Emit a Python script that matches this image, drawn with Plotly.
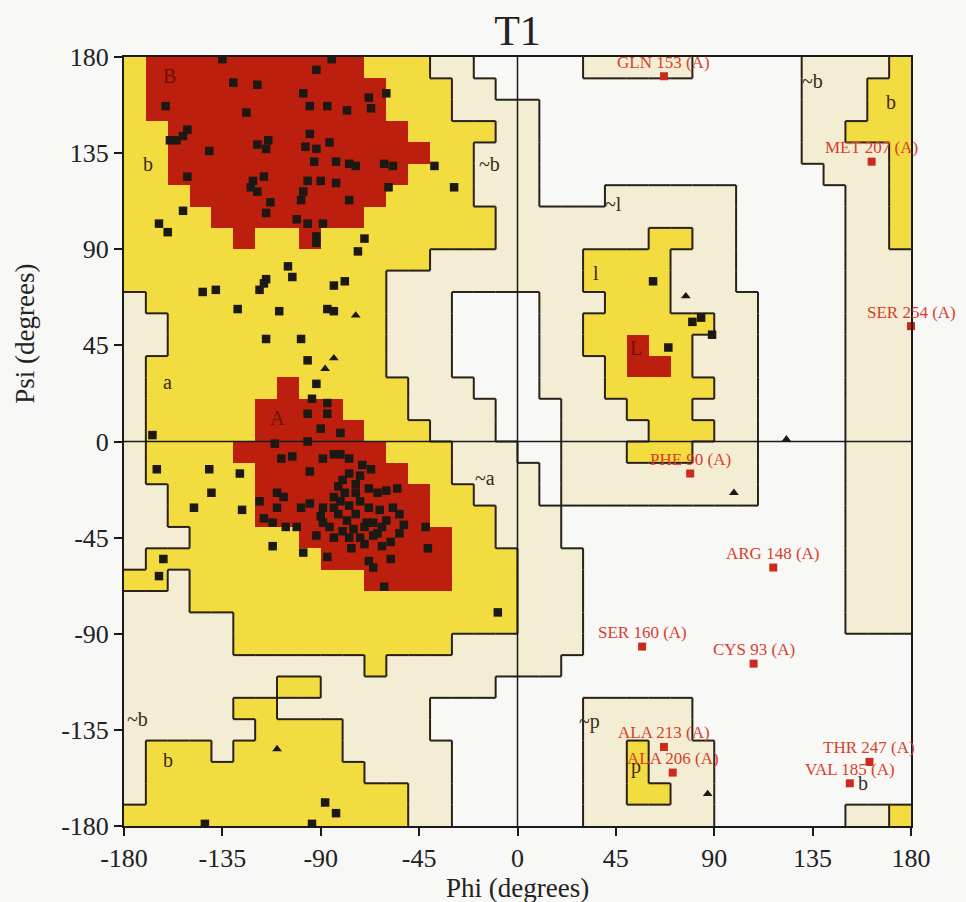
import plotly.graph_objects as go

# ---------------- Region map (PROCHECK style), 10-degree cells ----------------
# Each row: psi band from top (170..180) to bottom (-180..-170); run-length codes.
# R = core, Y = allowed, B = generously allowed, . = disallowed
region_left = [  # phi -180 .. 0 (18 cells)
    "Y1 R10 Y3 B2 .2", "Y1 R11 Y3 B2 .1", "Y1 R11 Y3 B3", "Y2 R11 Y4 B1",
    "Y2 R12 Y2 B2", "Y2 R11 Y3 B2", "Y3 R9 Y4 B2", "Y4 R7 Y6 B1",
    "Y5 R1 Y2 R1 Y8 B1", "Y14 B4", "Y12 B6", "B1 Y11 B3 .3",
    "B2 Y10 B3 .3", "B2 Y10 B3 .3", "B1 Y11 B3 .3", "B1 Y6 R1 Y5 B3 .2",
    "B1 Y5 R4 Y3 B4 .1", "B1 Y5 R5 Y3 B3 .1", "B1 Y4 R7 Y3 B3", "B1 Y5 R7 Y2 B3",
    "B2 Y4 R8 Y2 B2", "B2 Y4 R8 Y3 B1", "B3 Y5 R7 Y2 B1", "B1 Y8 R6 Y3",
    "Y2 B1 Y8 R4 Y3", "B3 Y15", "B5 Y13", "B5 Y10 B3",
    "B11 Y1 B6", "B7 Y2 B8 .1", "B5 Y2 B7 .4", "B6 Y4 B4 .4",
    "B1 Y3 B1 Y5 B5 .3", "B1 Y10 B4 .3", "B1 Y12 B2 .3", "Y13 B2 .3",
]
region_right = [  # phi 0 .. 180 (18 cells)
    ".3 B5 .5 B4 Y1", ".13 B3 Y2", "B1 .12 B3 Y2", "B1 .12 B2 Y3",
    "B1 .12 B4 Y1", "B1 .13 B3 Y1", "B1 .3 B6 .5 B2 Y1", "B10 .5 B2 Y1",
    "B6 Y2 B2 .5 B2 Y1", "B3 Y4 B3 .5 B3", "B3 Y4 B3 .5 B3", ".1 B3 Y3 B4 .4 B3",
    ".1 B2 Y6 B2 .4 B3", ".1 B2 Y2 R1 Y2 B3 .4 B3", ".1 B3 Y1 R2 Y1 B3 .4 B3", ".1 B3 Y5 B2 .4 B3",
    ".2 B3 Y3 B3 .4 B3", ".2 B4 Y3 B2 .4 B3", ".2 B3 Y3 B3 .4 B3", "B1 .1 B9 .4 B3",
    "B1 .1 B9 .4 B3", "B2 .13 B3", "B2 .13 B3", "B3 .12 B3",
    "B3 .12 B3", "B3 .12 B3", "B3 .12 B3", "B3 .15",
    "B2 .16", ".18", ".3 B5 .10", ".3 B5 .10",
    ".3 B2 Y1 B3 .9", ".3 B2 Y1 B3 .9", ".3 B2 Y2 B2 .9", ".3 B6 .6 B2 Y1",
]

# ---------------- Residue data (phi, psi in degrees) ----------------
core_phi = [-135, -85, -92, -130, -119, -98, -60, -68, -161, -95, -87, -78, -67, -124,
            -151, -159, -156, -153, -141, -119, -115, -114, -95, -97, -92, -86, -93, -83,
            -77, -74, -61, -57, -38, -151, -121, -122, -116, -119, -96, -90, -83, -98,
            -99, -59, -29, -77, -153, -113, -115, -101, -96, -89, -164, -160, -92, -92,
            -70, -73,
            -105, -103, -115, -116, -118, -84, -79, -144, -138, -128, -109, -87, -84,
            -115, -99, -96, -92, -94, -87, -87, -96, -90, -81, -167, -111, -96,
            -165, -141, -127, -108, -103, -89, -84, -81, -77, -71, -67, -95, -77, -72,
            -140, -110, -107, -82, -79, -74, -64, -60, -55, -148, -126, -118, -110, -99,
            -95, -89, -84, -81, -77, -72, -68, -63, -116, -112, -106, -101, -82, -78,
            -74, -69, -60, -54, -42, -84, -77, -72, -64, -54, -112, -98, -87, -62,
            -58, -41, -68, -66, -162, -164, -61, -9, -89, -75, -66, -57, -52, -84,
            -90, -70, -80, -86, -76, -70, -66, -74, -68, -80, -62, -58, -92,
            -88, -83, -143, -94,
            62, 80, 84, 89, 69]
core_psi = [179, 179, 174, 168, 167, 163, 163, 161, 157, 157, 157, 155, 156, 154,
            146, 141, 141, 143, 136, 139, 137, 141, 144, 138, 137, 140, 131, 131,
            130, 129, 130, 129, 129, 124, 122, 119, 124, 117, 122, 122, 121, 117,
            113, 119, 119, 113, 108, 112, 107, 104, 102, 102, 102, 98, 96, 93,
            95, 89,
            82, 77, 76, 74, 71, 73, 75, 70, 71, 62, 61, 62, 61,
            48, 48, 38, 27, 20, 18, 13, 13, 6, 4, 3, -1, 0,
            -13, -13, -15, -8, -7, -8, -6, -6, -8, -11, -13, -14, -15, -16,
            -24, -24, -26, -21, -24, -24, -24, -23, -22, -31, -32, -28, -31, -31,
            -29, -31, -31, -28, -30, -28, -31, -32, -36, -38, -40, -40, -34, -37,
            -34, -38, -37, -34, -40, -45, -45, -45, -43, -43, -49, -52, -54, -49,
            -47, -50, -56, -59, -55, -63, -68, -80, -38, -41, -38, -31, -39, -26,
            -35, -40, -42, -40, -50, -48, -44, -20, -22, -18, -40, -55, -44,
            -169, -174, -179, -179,
            75, 56, 58, 50, 44]

gly_phi = [-74, -84, -88, -110, 77, 123, 99, 87]
gly_psi = [59, 39, 34, -144, 68, 1, -24, -165]

outlier_names = ["GLN 153 (A)", "MET 207 (A)", "SER 254 (A)", "PHE 90 (A)", "ARG 148 (A)",
                 "SER 160 (A)", "CYS 93 (A)", "ALA 213 (A)", "ALA 206 (A)", "THR 247 (A)",
                 "VAL 185 (A)"]
outlier_phi = [67, 162, 180, 79, 117, 57, 108, 67, 71, 161, 152]
outlier_psi = [171, 131, 54, -15, -59, -96, -104, -143, -155, -150, -160]

region_names = ["B", "b", "~b", "a", "A", "~a", "~b", "b", "~l", "l", "L", "~p", "p", "~b", "b", "b"]
region_phi = [-159, -169, -13, -160, -110, -15, -174, -160, 44, 36, 54, 33, 54, 135, 171, 158]
region_psi = [171, 130, 130, 28, 11, -17, -130, -149, 111, 79, 44, -131, -152, 169, 159, -160]

phi_ticks = [-180, -135, -90, -45, 0, 45, 90, 135, 180]
psi_ticks = [-180, -135, -90, -45, 0, 45, 90, 135, 180]

# ---------------- Build grid ----------------
def decode(rle):
    s = ""
    for tok in rle.split():
        s += tok[0] * int(tok[1:])
    return s

rows = [decode(a) + decode(b) for a, b in zip(region_left, region_right)]
for i, r in enumerate(rows):
    assert len(r) == 36, (i, len(r))
code = {'.': 0, 'B': 1, 'Y': 2, 'R': 3}
n = 36
z = [[code[ch] for ch in rows[n - 1 - j]] for j in range(n)]  # j=0 bottom
step = 360 / n
xc = [-180 + step * (c + 0.5) for c in range(n)]
yc = [-180 + step * (j + 0.5) for j in range(n)]

lx, ly = [], []
for j in range(n):
    for c in range(n - 1):
        a, b = z[j][c], z[j][c + 1]
        if a != b and 3 not in (a, b):
            xb = -180 + step * (c + 1)
            lx += [xb, xb, None]
            ly += [-180 + step * j, -180 + step * (j + 1), None]
for j in range(n - 1):
    for c in range(n):
        a, b = z[j][c], z[j + 1][c]
        if a != b and 3 not in (a, b):
            yb = -180 + step * (j + 1)
            lx += [-180 + step * c, -180 + step * (c + 1), None]
            ly += [yb, yb, None]

WHITE = "#f8f8f6"
BEIGE = "#f3edd3"
YELLOW = "#f2dc40"
RED = "#bd1f0e"
colorscale = [[0, WHITE], [0.25, WHITE], [0.25, BEIGE], [0.5, BEIGE],
              [0.5, YELLOW], [0.75, YELLOW], [0.75, RED], [1, RED]]

SERIF = "Liberation Serif"

fig = go.Figure()
fig.add_trace(go.Heatmap(z=z, x=xc, y=yc, zmin=-0.5, zmax=3.5, colorscale=colorscale,
                         showscale=False, hoverinfo="skip"))
fig.add_trace(go.Scatter(x=lx, y=ly, mode="lines", line=dict(color="#2a2018", width=2),
                         hoverinfo="skip", showlegend=False))
fig.add_trace(go.Scatter(x=core_phi, y=core_psi, mode="markers", showlegend=False,
                         marker=dict(symbol="square", size=8.5, color="#1c1814")))
fig.add_trace(go.Scatter(x=gly_phi, y=gly_psi, mode="markers", showlegend=False,
                         marker=dict(symbol="triangle-up", size=8.5, color="#1c1814")))
fig.add_trace(go.Scatter(x=outlier_phi, y=outlier_psi, mode="markers", showlegend=False,
                         marker=dict(symbol="square", size=8, color="#cc2a1e"),
                         cliponaxis=False))

annotations = []
for t, px, py in zip(region_names, region_phi, region_psi):
    col = "#6e1008" if t in ("A", "B", "L") else "#3a2a14"
    annotations.append(dict(x=px, y=py, text=t, showarrow=False,
                            font=dict(family=SERIF, size=20, color=col)))
for t, px, py in zip(outlier_names, outlier_phi, outlier_psi):
    annotations.append(dict(x=px, y=py, text=t, showarrow=False, yshift=14,
                            font=dict(family=SERIF, size=17, color="#d8402c")))
annotations.append(dict(xref="paper", yref="paper", x=0.5, y=-0.081, text="Phi (degrees)",
                        showarrow=False, yanchor="middle",
                        font=dict(family=SERIF, size=27, color="#222")))
annotations.append(dict(xref="paper", yref="paper", x=-0.126, y=0.64, text="Psi (degrees)",
                        showarrow=False, textangle=-90, xanchor="center", yanchor="middle",
                        font=dict(family=SERIF, size=27, color="#222")))

shapes = [
    dict(type="line", xref="x", yref="paper", x0=0, x1=0, y0=0, y1=1,
         line=dict(color="#1a1a1a", width=1.5)),
    dict(type="line", xref="paper", yref="y", x0=0, x1=1, y0=0, y1=0,
         line=dict(color="#1a1a1a", width=1.5)),
]

axis_common = dict(range=[-180, 180], showgrid=False, zeroline=False, ticks="outside",
                   ticklen=8, tickwidth=1.5, tickcolor="#1a1a1a", showline=True,
                   linecolor="#1a1a1a", linewidth=2, mirror=True,
                   tickfont=dict(family=SERIF, size=26, color="#222"))

fig.update_layout(
    width=966, height=902,
    margin=dict(l=124, r=55, t=57, b=76),
    paper_bgcolor=WHITE, plot_bgcolor=WHITE,
    title=dict(text="T1", x=0.5, xref="paper", xanchor="center", y=1 - 30 / 902,
               yref="container", yanchor="middle",
               font=dict(family=SERIF, size=42, color="#222")),
    xaxis=dict(tickvals=phi_ticks, ticktext=[str(v) for v in phi_ticks], **axis_common),
    yaxis=dict(tickvals=psi_ticks, ticktext=[str(v) for v in psi_ticks], **axis_common),
    annotations=annotations, shapes=shapes, showlegend=False,
)

fig.write_html("out.html", config={"displayModeBar": False},
               post_script="document.body.style.margin='0';document.body.style.background='#f8f8f6';")
